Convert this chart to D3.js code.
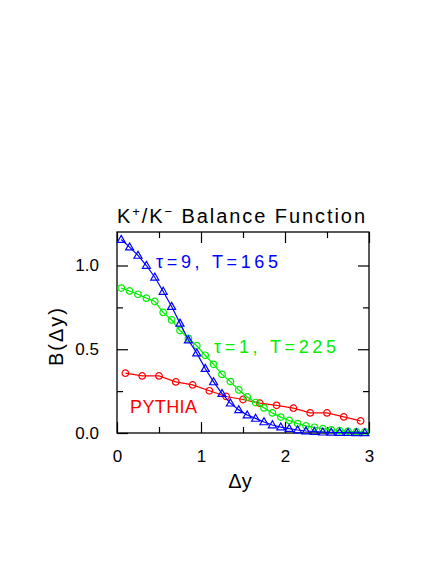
<!DOCTYPE html>
<html>
<head>
<meta charset="utf-8">
<script src="https://cdnjs.cloudflare.com/ajax/libs/d3/7.8.5/d3.min.js"></script>
<style>
  body { margin: 0; background: #fff; }
  text { font-family: "Liberation Sans", Arial, sans-serif; }
</style>
</head>
<body>
<div id="chart"></div>
<script>
// K+/K- balance function, B(dy) vs dy
var xFine = [0.05, 0.15, 0.25, 0.35, 0.45, 0.55, 0.65, 0.75, 0.85, 0.95,
             1.05, 1.15, 1.25, 1.35, 1.45, 1.55, 1.65, 1.75, 1.85, 1.95,
             2.05, 2.15, 2.25, 2.35, 2.45, 2.55, 2.65, 2.75, 2.85, 2.95];
var xCoarse = [0.1, 0.3, 0.5, 0.7, 0.9, 1.1, 1.3, 1.5, 1.7, 1.9, 2.1, 2.3, 2.5, 2.7, 2.9];

// tau=9, T=165 (blue triangles)
var bTau9 = [1.155, 1.11, 1.06, 1.00, 0.93, 0.845, 0.755, 0.655, 0.555, 0.477,
             0.385, 0.305, 0.235, 0.178, 0.138, 0.107, 0.087, 0.066, 0.048, 0.035,
             0.026, 0.018, 0.012, 0.008, 0.005, 0.004, 0.003, 0.002, 0.001, 0.001];
// tau=1, T=225 (green circles)
var bTau1 = [0.865, 0.848, 0.828, 0.805, 0.785, 0.72, 0.675, 0.612, 0.565, 0.521,
             0.464, 0.41, 0.35, 0.307, 0.257, 0.215, 0.182, 0.15, 0.12, 0.095,
             0.075, 0.056, 0.043, 0.034, 0.026, 0.019, 0.014, 0.01, 0.008, 0.006];
// PYTHIA (red circles)
var bPythia = [0.357, 0.341, 0.341, 0.305, 0.287, 0.252, 0.218, 0.2, 0.178, 0.165,
               0.148, 0.12, 0.12, 0.096, 0.072];

var xMajor = [0, 1, 2, 3];
var xMinor = [0.5, 1.5, 2.5];
var yMajor = [0, 0.5, 1.0];
var yMinor = [0.25, 0.75];

var svgWidth = 436;
var svgHeight = 564;
var margin = {left: 117, top: 232, right: 67, bottom: 131};
var width = svgWidth - margin.left - margin.right;
var height = svgHeight - margin.top - margin.bottom;

var svg = d3.select("#chart")
  .append("svg")
  .attr("width", svgWidth)
  .attr("height", svgHeight);

var g = svg.append("g")
  .attr("transform", "translate(" + margin.left + "," + margin.top + ")");

var xScale = d3.scaleLinear().domain([0, 3]).range([0, width]);
var yScale = d3.scaleLinear().domain([0, 1.2]).range([height, 0]);

// frame
g.append("rect")
  .attr("width", width)
  .attr("height", height)
  .attr("fill", "none")
  .attr("stroke", "#000")
  .attr("stroke-width", 1.3);

// axes, ticks pointing inward on all four sides
function styleAxis(sel) {
  sel.select(".domain").remove();
  sel.selectAll(".tick line").attr("stroke", "#000").attr("stroke-width", 1.2);
  sel.selectAll("text").attr("font-size", 17).attr("fill", "#000")
    .attr("font-family", "'Liberation Sans', Arial, sans-serif");
}

g.append("g").attr("transform", "translate(0," + height + ")")
  .call(d3.axisBottom(xScale).tickValues(xMajor).tickSize(-11).tickPadding(17).tickFormat(d3.format("d")))
  .call(styleAxis);
g.append("g").attr("transform", "translate(0," + height + ")")
  .call(d3.axisBottom(xScale).tickValues(xMinor).tickSize(-6).tickFormat(""))
  .call(styleAxis);
g.append("g")
  .call(d3.axisTop(xScale).tickValues(xMajor).tickSize(-11).tickFormat(""))
  .call(styleAxis);
g.append("g")
  .call(d3.axisTop(xScale).tickValues(xMinor).tickSize(-6).tickFormat(""))
  .call(styleAxis);

g.append("g")
  .call(d3.axisLeft(yScale).tickValues(yMajor).tickSize(-11).tickPadding(18).tickFormat(d3.format(".1f")))
  .call(styleAxis);
g.append("g")
  .call(d3.axisLeft(yScale).tickValues(yMinor).tickSize(-6).tickFormat(""))
  .call(styleAxis);
g.append("g").attr("transform", "translate(" + width + ",0)")
  .call(d3.axisRight(yScale).tickValues(yMajor).tickSize(-11).tickFormat(""))
  .call(styleAxis);
g.append("g").attr("transform", "translate(" + width + ",0)")
  .call(d3.axisRight(yScale).tickValues(yMinor).tickSize(-6).tickFormat(""))
  .call(styleAxis);

// series
var series = [
  {xs: xCoarse, ys: bPythia, color: "#ff0000", marker: "circle"},
  {xs: xFine, ys: bTau1, color: "#00ee00", marker: "circle"},
  {xs: xFine, ys: bTau9, color: "#0000ff", marker: "triangle"}
];

var line = d3.line()
  .x(d => xScale(d[0]))
  .y(d => yScale(d[1]));

series.forEach(function(s) {
  var pts = s.xs.map((x, i) => [x, s.ys[i]]);
  g.append("path")
    .attr("d", line(pts))
    .attr("fill", "none")
    .attr("stroke", s.color)
    .attr("stroke-width", 1.2);
  var sym = d3.symbol()
    .type(s.marker === "circle" ? d3.symbolCircle : d3.symbolTriangle)
    .size(s.marker === "circle" ? 34 : 28);
  g.selectAll(null)
    .data(pts)
    .enter()
    .append("path")
    .attr("d", sym)
    .attr("transform", d => "translate(" + xScale(d[0]) + "," + (yScale(d[1]) + (s.marker === "circle" ? 0 : 0.5)) + ")")
    .attr("fill", "none")
    .attr("stroke", s.color)
    .attr("stroke-width", 1.2);
});

// title
var title = svg.append("text")
  .attr("x", 117)
  .attr("y", 223)
  .attr("font-size", 20)
  .attr("fill", "#000")
  .attr("textLength", 248)
  .attr("lengthAdjust", "spacing");
title.append("tspan").text("K");
title.append("tspan").attr("font-size", 13).attr("dy", -7).text("+");
title.append("tspan").attr("dy", 7).text("/K");
title.append("tspan").attr("font-size", 13).attr("dy", -7).text("\u2212");
title.append("tspan").attr("dy", 7).text(" Balance Function");

// axis titles
svg.append("text")
  .attr("x", 240)
  .attr("y", 488)
  .attr("text-anchor", "middle")
  .attr("font-size", 20)
  .attr("fill", "#000")
  .text("\u0394y");

svg.append("text")
  .attr("transform", "translate(63,337) rotate(-90)")
  .attr("text-anchor", "middle")
  .attr("font-size", 20)
  .attr("fill", "#000")
  .attr("textLength", 58)
  .attr("lengthAdjust", "spacing")
  .text("B(\u0394y)");

// annotations
var notes = [
  {text: "\u03c4=9,  T=165", x: 156, y: 268, len: 122, color: "#0000ff"},
  {text: "\u03c4=1,  T=225", x: 214, y: 353, len: 122, color: "#00ee00"},
  {text: "PYTHIA", x: 130, y: 413, len: 67, color: "#ff0000"}
];
notes.forEach(function(n) {
  svg.append("text")
    .attr("x", n.x)
    .attr("y", n.y)
    .attr("font-size", 18)
    .attr("fill", n.color)
    .attr("textLength", n.len)
    .attr("lengthAdjust", "spacing")
    .text(n.text);
});
</script>
</body>
</html>
